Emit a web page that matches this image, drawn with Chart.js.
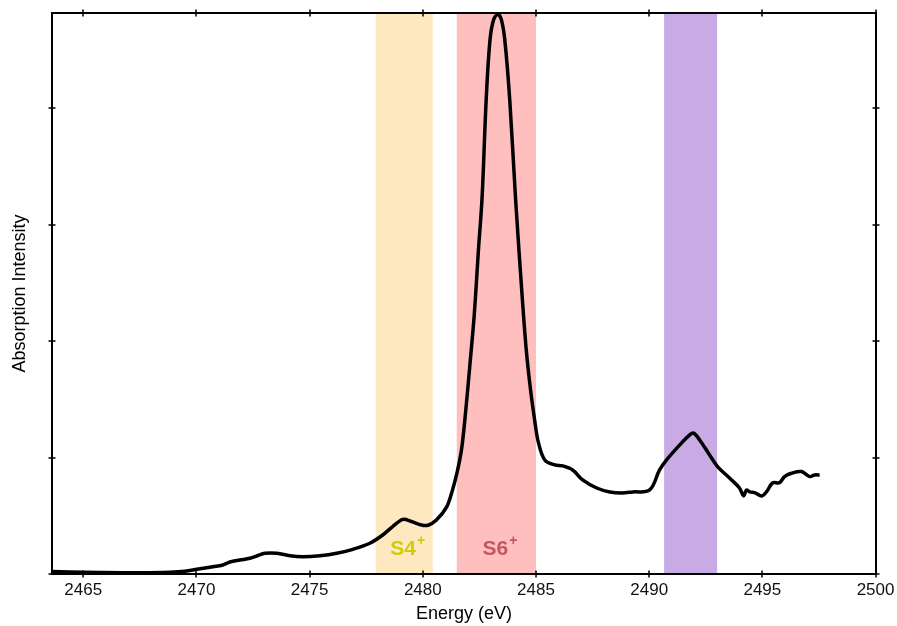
<!DOCTYPE html>
<html>
<head>
<meta charset="utf-8">
<script src="https://cdn.jsdelivr.net/npm/chart.js@4.4.1/dist/chart.umd.min.js"></script>
<style>
  html, body { margin: 0; padding: 0; background: #fff; }
</style>
</head>
<body>
<canvas id="chart" width="897" height="626"></canvas>
<script>
// S K-edge XANES trace
const energy = [
  2463.62, 2464.41, 2465.74, 2467.51, 2468.83, 2469.49, 2470.02, 2470.73, 2471.13, 2471.48,
  2471.92, 2472.36, 2472.72, 2473.02, 2473.55, 2474.13, 2474.70, 2475.45, 2476.20, 2476.91,
  2477.66, 2478.23, 2478.68, 2479.12, 2479.50, 2479.94, 2480.23, 2480.60, 2481.05, 2481.30,
  2481.52, 2481.72, 2481.90, 2482.08, 2482.27, 2482.46, 2482.62, 2482.80, 2482.97, 2483.13,
  2483.32, 2483.47, 2483.62, 2483.84, 2484.10, 2484.40, 2484.57, 2484.76, 2484.94, 2485.10,
  2485.39, 2485.83, 2486.18, 2486.62, 2487.06, 2487.68, 2488.26, 2488.79, 2489.27, 2490.02,
  2490.46, 2490.77, 2491.35, 2491.79, 2491.96, 2492.23, 2492.67, 2493.02, 2493.55, 2493.99,
  2494.17, 2494.30, 2494.44, 2494.66, 2494.97, 2495.19, 2495.45, 2495.76, 2495.98, 2496.29,
  2496.73, 2497.09, 2497.31, 2497.53
];
const intensity = [
  0.021, 0.017, 0.013, 0.011, 0.015, 0.023, 0.040, 0.063, 0.075, 0.103,
  0.120, 0.135, 0.159, 0.178, 0.178, 0.157, 0.149, 0.157, 0.178, 0.212,
  0.264, 0.335, 0.410, 0.469, 0.451, 0.421, 0.419, 0.464, 0.574, 0.714,
  0.877, 1.083, 1.410, 1.797, 2.220, 2.790, 3.240, 4.076, 4.592, 4.763,
  4.810, 4.763, 4.592, 4.076, 3.216, 2.356, 1.926, 1.582, 1.324, 1.135,
  0.980, 0.937, 0.929, 0.894, 0.808, 0.739, 0.705, 0.696, 0.705, 0.722,
  0.894, 0.980, 1.109, 1.195, 1.210, 1.152, 1.023, 0.923, 0.825, 0.739,
  0.671, 0.722, 0.705, 0.699, 0.671, 0.708, 0.782, 0.785, 0.837, 0.866,
  0.880, 0.837, 0.851, 0.851
];

// shaded energy windows
const bandFrom = [2477.92, 2481.50, 2490.66];
const bandTo = [2480.44, 2485.00, 2493.00];
const bandColors = ['#fee8c0', '#ffbfbf', '#c8aae5'];
const bandLabels = ['S4', 'S6', ''];
const labelColors = ['#cfcc0a', '#c0585c', ''];

const xTicks = [2465, 2470, 2475, 2480, 2485, 2490, 2495, 2500];
const yTicks = [0, 1, 2, 3, 4];

const FONT = '"Liberation Sans", Arial, Helvetica, sans-serif';
Chart.defaults.font.family = FONT;
Chart.defaults.color = '#000';

const bands = {
  id: 'bands',
  beforeDatasetsDraw(chart) {
    const { ctx, chartArea: a, scales: { x } } = chart;
    ctx.save();
    for (let i = 0; i < bandFrom.length; i++) {
      const x0 = x.getPixelForValue(bandFrom[i]);
      const x1 = x.getPixelForValue(bandTo[i]);
      ctx.fillStyle = bandColors[i];
      ctx.fillRect(x0, a.top, x1 - x0, a.bottom - a.top);

      if (!bandLabels[i]) continue;
      ctx.font = 'bold 21px ' + FONT;
      const w1 = ctx.measureText(bandLabels[i]).width;
      ctx.font = 'bold 14px ' + FONT;
      const w2 = ctx.measureText('+').width;
      const left = (x0 + x1) / 2 - (w1 + w2) / 2 + 3;
      const base = a.bottom - 19;
      ctx.fillStyle = labelColors[i];
      ctx.textAlign = 'left';
      ctx.textBaseline = 'alphabetic';
      ctx.font = 'bold 21px ' + FONT;
      ctx.fillText(bandLabels[i], left, base);
      ctx.font = 'bold 14px ' + FONT;
      ctx.fillText('+', left + w1 + 1, base - 10);
    }
    ctx.restore();
  }
};

// box round the plot with small ticks crossing every side
const frame = {
  id: 'frame',
  afterDatasetsDraw(chart) {
    const { ctx, chartArea: a, scales: { x, y } } = chart;
    ctx.save();
    ctx.strokeStyle = '#000';
    ctx.lineWidth = 2;
    ctx.strokeRect(a.left, a.top, a.right - a.left, a.bottom - a.top);
    ctx.lineWidth = 1.5;
    ctx.beginPath();
    for (const t of x.ticks) {
      const px = Math.round(x.getPixelForValue(t.value));
      ctx.moveTo(px, a.bottom - 3.5); ctx.lineTo(px, a.bottom + 3.5);
      ctx.moveTo(px, a.top - 3.5); ctx.lineTo(px, a.top + 3.5);
    }
    for (const t of y.ticks) {
      const py = Math.round(y.getPixelForValue(t.value));
      ctx.moveTo(a.left - 3.5, py); ctx.lineTo(a.left + 3.5, py);
      ctx.moveTo(a.right - 3.5, py); ctx.lineTo(a.right + 3.5, py);
    }
    ctx.stroke();
    ctx.restore();
  }
};

new Chart(document.getElementById('chart'), {
  type: 'line',
  data: {
    datasets: [{
      data: energy.map((e, i) => ({ x: e, y: intensity[i] })),
      borderColor: '#000',
      borderWidth: 3.5,
      pointRadius: 0,
      tension: 0.35,
      fill: false,
      clip: 4,
    }]
  },
  options: {
    responsive: false,
    animation: false,
    devicePixelRatio: 1,
    layout: { padding: { top: 13, right: 21, left: 0, bottom: 0 } },
    plugins: {
      legend: { display: false },
      tooltip: { enabled: false },
    },
    scales: {
      x: {
        type: 'linear',
        min: 2463.62,
        max: 2500.02,
        afterBuildTicks: s => { s.ticks = xTicks.map(v => ({ value: v })); },
        afterFit: s => { s.height = 52; s.paddingLeft = 0; s.paddingRight = 0; },
        grid: { display: false, drawTicks: false },
        border: { display: false },
        ticks: {
          font: { size: 17 },
          color: '#111',
          padding: 6,
          maxRotation: 0,
          callback: v => String(v),
        },
        title: {
          display: true,
          text: 'Energy (eV)',
          font: { size: 18 },
          padding: { top: 0, bottom: 1 },
        },
      },
      y: {
        min: 0,
        max: 4.82,
        afterBuildTicks: s => { s.ticks = yTicks.map(v => ({ value: v })); },
        afterFit: s => { s.width = 52; s.paddingTop = 0; s.paddingBottom = 0; },
        grid: { display: false, drawTicks: false },
        border: { display: false },
        ticks: { display: false },
        title: {
          display: true,
          text: 'Absorption Intensity',
          font: { size: 18 },
          padding: { top: 9, bottom: 0 },
        },
      },
    },
  },
  plugins: [bands, frame],
});
</script>
</body>
</html>
